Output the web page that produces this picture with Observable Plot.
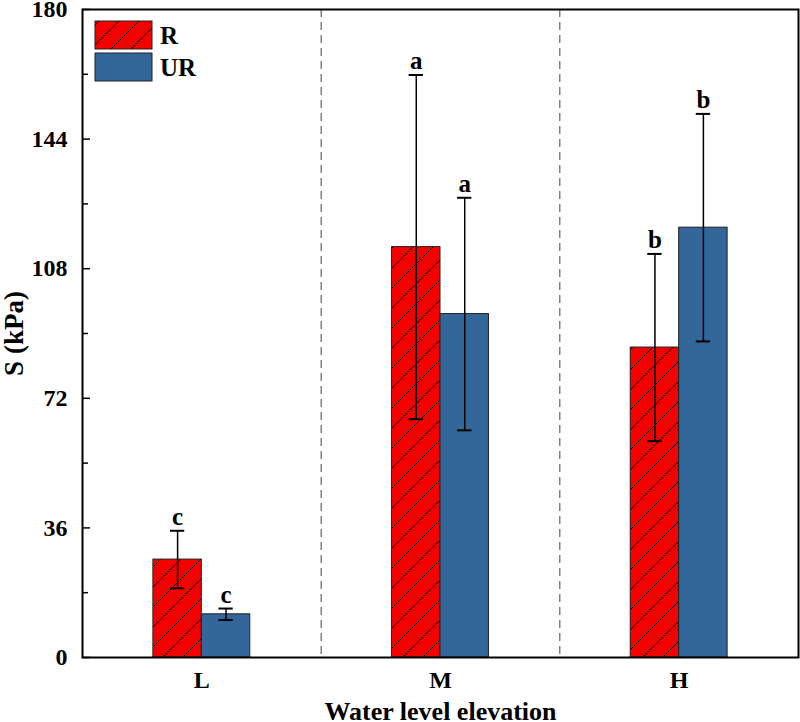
<!DOCTYPE html>
<html>
<head>
<meta charset="utf-8">
<script src="https://cdn.jsdelivr.net/npm/d3@7"></script>
<script src="https://cdn.jsdelivr.net/npm/@observablehq/plot@0.6"></script>
<style>
  html, body { margin: 0; padding: 0; background: #fff; }
  #chart { width: 800px; height: 722px; }
</style>
</head>
<body>
<div id="chart"></div>
<script>
// Shear strength S (kPa) by water level elevation, rooted (R) vs unrooted (UR) soil
const categories = ["L", "M", "H"];
const series = ["R", "UR"];
const meanR = [27.2, 114.0, 86.1];
const sdR = [8.0, 47.8, 26.0];
const lettersR = ["c", "a", "b"];
const meanUR = [12.0, 95.4, 119.4];
const sdUR = [1.6, 32.3, 31.6];
const lettersUR = ["c", "a", "b"];
const yTicks = [0, 36, 72, 108, 144, 180];
const yMinorTicks = [18, 54, 90, 126, 162];

const colors = {R: "#f50000", UR: "#336699"};
const barWidth = 0.203; // share of one category band
const capHalf = 0.03;

const rows = categories.flatMap((category, i) => series.map((s, j) => {
  const x1 = i + 0.5 + (j - 1) * barWidth;
  return {
    category, series: s,
    mean: j ? meanUR[i] : meanR[i],
    sd: j ? sdUR[i] : sdR[i],
    letter: j ? lettersUR[i] : lettersR[i],
    x1, x2: x1 + barWidth, cx: x1 + barWidth / 2
  };
}));

const font = "'Liberation Serif', 'Times New Roman', serif";

const svg = Plot.plot({
  width: 800,
  height: 722,
  marginLeft: 82,
  marginRight: 2,
  marginTop: 9,
  marginBottom: 65,
  style: {fontFamily: font, fontWeight: "bold", fontSize: "24px", color: "#000", background: "#fff"},
  x: {domain: [0, categories.length]},
  y: {domain: [0, 180]},
  marks: [
    Plot.ruleX(d3.range(1, categories.length), {stroke: "#444", strokeDasharray: "8,5", strokeWidth: 1}),
    Plot.rectY(rows, {
      x1: "x1", x2: "x2", y: "mean",
      fill: d => d.series === "R" ? "url(#hatchR)" : colors.UR,
      stroke: "#222", strokeWidth: 1
    }),
    Plot.ruleX(rows, {x: "cx", y1: d => d.mean - d.sd, y2: d => d.mean + d.sd, stroke: "#000", strokeWidth: 1.5}),
    Plot.ruleY(rows, {y: d => d.mean + d.sd, x1: d => d.cx - capHalf, x2: d => d.cx + capHalf, stroke: "#000", strokeWidth: 2}),
    Plot.ruleY(rows, {y: d => d.mean - d.sd, x1: d => d.cx - capHalf, x2: d => d.cx + capHalf, stroke: "#000", strokeWidth: 2}),
    Plot.text(rows, {
      x: "cx", y: d => d.mean + d.sd, text: "letter",
      dy: -6, lineAnchor: "bottom", fontSize: 25, fontWeight: "bold", fill: "#000"
    }),
    Plot.axisY(yTicks, {
      tickSize: 0, tickPadding: 15, fontSize: 24,
      label: "S (kPa)", labelAnchor: "center", labelOffset: 79, labelArrow: false
    }),
    Plot.axisY(yTicks, {tickSize: 8, dx: 8, tickFormat: () => "", label: null, strokeWidth: 1.5}),
    Plot.axisY(yMinorTicks, {tickSize: 6, dx: 6, tickFormat: () => "", label: null, strokeWidth: 1.5}),
    Plot.axisX(categories.map((c, i) => i + 0.5), {
      tickSize: 0, tickPadding: 13, fontSize: 24,
      tickFormat: v => categories[Math.floor(v)],
      label: "Water level elevation", labelAnchor: "center", labelOffset: 62, labelArrow: false
    }),
    Plot.frame({stroke: "#000", strokeWidth: 2})
  ]
});

// larger axis titles
d3.select(svg).selectAll("g[aria-label='y-axis label'] text").style("font-size", "27px");
d3.select(svg).selectAll("g[aria-label='x-axis label'] text").style("font-size", "26px");

// hatch pattern for the R bars
const defs = d3.select(svg).insert("defs", ":first-child");
const pattern = defs.append("pattern")
  .attr("id", "hatchR")
  .attr("patternUnits", "userSpaceOnUse")
  .attr("width", 20).attr("height", 20);
pattern.append("rect").attr("width", 20).attr("height", 20).attr("fill", colors.R);
pattern.append("path")
  .attr("d", "M-5,5L5,-5M0,20L20,0M15,25L25,15")
  .attr("stroke", "#000").attr("stroke-width", 1);

// legend, top-left inside the frame
const legend = d3.select(svg).append("g")
  .attr("text-anchor", "start")
  .style("font-family", font).style("font-weight", "bold").style("font-size", "25px");
series.forEach((s, i) => {
  const y = 21 + i * 32;
  legend.append("rect")
    .attr("x", 95).attr("y", y).attr("width", 57).attr("height", 28)
    .attr("fill", s === "R" ? "url(#hatchR)" : colors.UR)
    .attr("stroke", "#222").attr("stroke-width", 1);
  legend.append("text")
    .attr("x", 160).attr("y", y + 14).attr("dy", "0.35em")
    .attr("fill", "#000")
    .text(s);
});

document.getElementById("chart").appendChild(svg);
</script>
</body>
</html>
